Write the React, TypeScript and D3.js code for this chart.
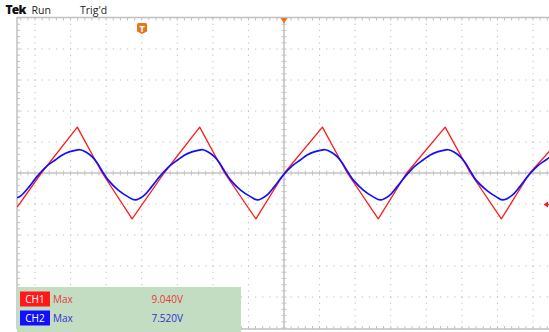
import React from "react";
import * as d3 from "d3";

// scope screen: 15 horizontal x 10 vertical divisions, values in divisions
const headerLabels = ["Tek", "Run", "Trig'd"];

const ch1Time = [-7.5, -6.82, -5.81, -5.11, -4.27, -3.37, -2.37, -1.67, -0.79, 0.01, 1.08, 1.78, 2.65, 3.45, 4.53, 5.24, 6.11, 6.91, 7.5];
const ch1Volts = [-1.1, 0, 1.48, 0, -1.48, 0, 1.48, 0, -1.48, 0, 1.48, 0, -1.48, 0, 1.48, 0, -1.48, 0, 0.75];

const ch2Time = [
  -7.5, -7.39, -7.16, -6.94, -6.66, -6.43, -6.23, -6.04, -5.87, -5.73, -5.56, -5.39, -5.25, -5.11, -4.94, -4.66, -4.38, -4.18,
  -3.94, -3.72, -3.49, -3.21, -2.99, -2.79, -2.59, -2.42, -2.28, -2.12, -1.95, -1.81, -1.67, -1.5, -1.22, -0.93, -0.74,
  -0.5, -0.27, -0.05, 0.23, 0.46, 0.65, 0.85, 1.02, 1.16, 1.33, 1.5, 1.64, 1.78, 1.95, 2.23, 2.51, 2.71,
  2.96, 3.18, 3.41, 3.69, 3.91, 4.11, 4.31, 4.48, 4.62, 4.79, 4.96, 5.1, 5.24, 5.4, 5.69, 5.97, 6.16,
  6.4, 6.63, 6.85, 7.13, 7.36, 7.56,
];
const ch2Volts = [
  -0.8, -0.73, -0.44, -0.11, 0.23, 0.42, 0.58, 0.68, 0.73, 0.75, 0.67, 0.52, 0.32, 0.06, -0.23, -0.55, -0.77, -0.87,
  -0.73, -0.44, -0.11, 0.23, 0.42, 0.58, 0.68, 0.73, 0.75, 0.67, 0.52, 0.32, 0.06, -0.23, -0.55, -0.77, -0.87,
  -0.73, -0.44, -0.11, 0.23, 0.42, 0.58, 0.68, 0.73, 0.75, 0.67, 0.52, 0.32, 0.06, -0.23, -0.55, -0.77, -0.87,
  -0.73, -0.44, -0.11, 0.23, 0.42, 0.58, 0.68, 0.73, 0.75, 0.67, 0.52, 0.32, 0.06, -0.23, -0.55, -0.77, -0.87,
  -0.73, -0.44, -0.11, 0.23, 0.42, 0.58,
];

const channels = ["CH1", "CH2"];
const measNames = ["Max", "Max"];
const measValues = ["9.040V", "7.520V"];
const chColors = ["#ff1a1a", "#1010ff"];
const chTextColors = ["#e83a3a", "#3030d0"];

const width = 549;
const height = 332;

export default function App() {
  const x = d3.scaleLinear().domain([-7.5, 7.5]).range([17.2, 550.8]);
  const y = d3.scaleLinear().domain([-5, 5]).range([328, 18]);

  const majorX = d3.range(-7, 8).filter((d) => d !== 0);
  const majorY = d3.range(-4, 5).filter((d) => d !== 0);
  const minorX = d3.range(-37, 38).map((d) => d / 5);
  const minorY = d3.range(-25, 26).map((d) => d / 5);

  const line = d3
    .line<[number, number]>()
    .x((d) => x(d[0]))
    .y((d) => y(d[1]));

  const ch1 = ch1Time.map((t, i) => [t, ch1Volts[i]] as [number, number]);
  const ch2 = ch2Time.map((t, i) => [t, ch2Volts[i]] as [number, number]);

  const grid = "#bcbcbc";
  const orange = "#e8741c";

  return (
    <svg
      width={width}
      height={height}
      style={{ position: "absolute", left: 0, top: 0, background: "#fff" }}
      fontFamily="'Open Sans', sans-serif"
    >
      <defs>
        <clipPath id="plot">
          <rect x={17} y={17} width={width - 17} height={312} />
        </clipPath>
      </defs>

      {/* dotted graticule */}
      <g fill={grid}>
        {majorX.map((gx) =>
          minorY.map((my) => (
            <rect key={`v${gx}_${my}`} x={x(gx) - 0.5} y={y(my) - 0.5} width={1} height={1.2} />
          ))
        )}
        {majorY.map((gy) =>
          minorX.map((mx) => (
            <rect key={`h${gy}_${mx}`} x={x(mx) - 0.5} y={y(gy) - 0.5} width={1.2} height={1} />
          ))
        )}
      </g>

      {/* center cross with ticks */}
      <g stroke="#c4c4c4">
        <line x1={17} x2={width} y1={y(0)} y2={y(0)} strokeWidth={1.6} />
        <line x1={x(0)} x2={x(0)} y1={18} y2={328} strokeWidth={1.6} />
        {minorX.map((mx) => (
          <line key={`cx${mx}`} x1={x(mx)} x2={x(mx)} y1={y(0) - 2.5} y2={y(0) + 2.5} strokeWidth={1} />
        ))}
        {minorY.map((my) => (
          <line key={`cy${my}`} x1={x(0) - 2.5} x2={x(0) + 2.5} y1={y(my)} y2={y(my)} strokeWidth={1} />
        ))}
      </g>

      {/* border with ticks */}
      <g stroke="#c0c0c0">
        <line x1={17} x2={17} y1={17} y2={329} strokeWidth={1.5} />
        <line x1={17} x2={width} y1={17.5} y2={17.5} strokeWidth={1.5} />
        <line x1={17} x2={width} y1={329} y2={329} strokeWidth={1.5} />
        {minorY.map((my) => (
          <line key={`bl${my}`} x1={17} x2={20} y1={y(my)} y2={y(my)} strokeWidth={1} />
        ))}
        {minorX.map((mx) => (
          <g key={`bt${mx}`}>
            <line x1={x(mx)} x2={x(mx)} y1={17.5} y2={20.5} strokeWidth={1} />
            <line x1={x(mx)} x2={x(mx)} y1={326} y2={329} strokeWidth={1} />
          </g>
        ))}
      </g>

      {/* traces */}
      <g clipPath="url(#plot)" fill="none" strokeLinejoin="round">
        <path d={line(ch1) ?? ""} stroke={chColors[0]} strokeWidth={1.3} />
        <path d={line.curve(d3.curveCatmullRom)(ch2) ?? ""} stroke={chColors[1]} strokeWidth={1.7} />
      </g>

      {/* measurement panel */}
      <rect x={17} y={287} width={224} height={height - 287} fill="#c3ddc3" />
      {channels.map((c, i) => {
        const top = 291.5 + i * 19;
        return (
          <g key={c} fontSize={10}>
            <rect x={20} y={top} width={30} height={15} fill={chColors[i]} />
            <text x={35} y={top + 11} fill="#fff" textAnchor="middle">
              {c}
            </text>
            <text x={53} y={top + 11} fill={chTextColors[i]}>
              {measNames[i]}
            </text>
            <text x={151.5} y={top + 11} fill={chTextColors[i]}>
              {measValues[i]}
            </text>
          </g>
        );
      })}

      {/* markers */}
      <path
        d={`M${x(0) - 3.5},18 L${x(0) + 3.5},18 L${x(0)},23.5 Z`}
        fill={orange}
      />
      <g transform="translate(137,23)">
        <path d="M1.5,0 H8.5 Q10,0 10,1.5 V8.5 L5,11 L0,8.5 V1.5 Q0,0 1.5,0 Z" fill={orange} />
        <text x={5} y={8.5} fontSize={9} fontWeight={700} fill="#fff" textAnchor="middle">
          T
        </text>
      </g>
      <path d="M543.5,204.5 L548,201.5 L548,207.5 Z" fill={chColors[0]} />
      <line x1={546} x2={549} y1={204.5} y2={204.5} stroke={chColors[0]} strokeWidth={1.5} />

      {/* header */}
      <text x={5.5} y={14} fontSize={12} fontWeight={800} letterSpacing={-0.8} fill="#111">
        {headerLabels[0]}
      </text>
      <text x={31.5} y={14} fontSize={10.5} fill="#222">
        {headerLabels[1]}
      </text>
      <text x={80} y={14} fontSize={10.5} fill="#222">
        {headerLabels[2]}
      </text>
    </svg>
  );
}
